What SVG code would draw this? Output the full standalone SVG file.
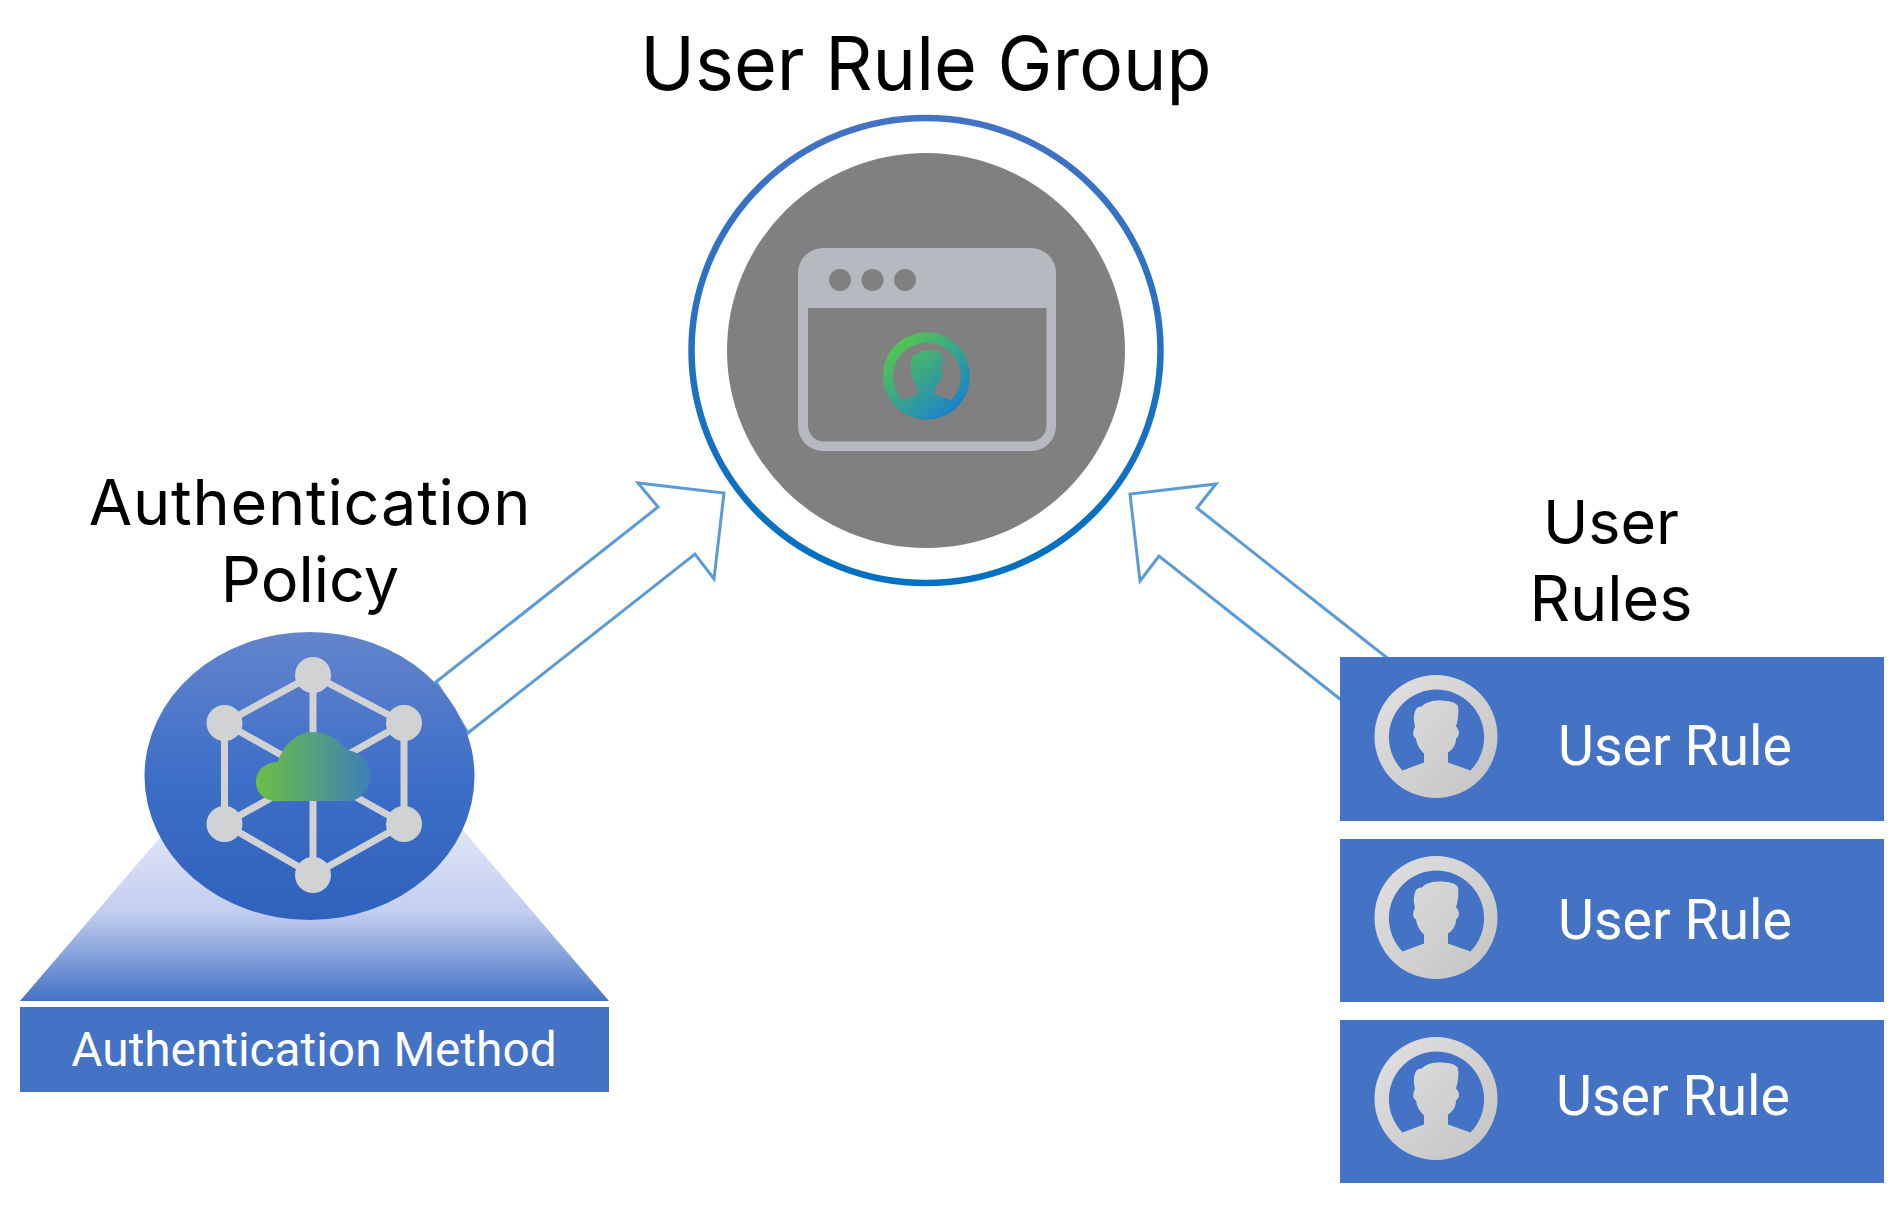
<svg xmlns="http://www.w3.org/2000/svg" xmlns:xlink="http://www.w3.org/1999/xlink" width="1902" height="1206" viewBox="0 0 1902 1206">
<style>
.title{font-family:Inter,"Noto Sans",sans-serif;font-size:73.600px;fill:#000;text-anchor:middle}
.sub{font-family:Inter,"Noto Sans",sans-serif;font-size:63px;fill:#000;text-anchor:middle}
.lbl{font-family:Roboto,"Liberation Sans",sans-serif;fill:#fff}
.box{fill:#4472c4}
.arrow{fill:#fff;stroke:#5b9bd5;stroke-width:3;stroke-linejoin:miter}
.lnk{stroke:#d0d2d4;stroke-width:7;fill:none}
.nd{fill:#d0d2d4}
</style>
<defs>
<linearGradient id="ring" x1="0" y1="0" x2="0" y2="1"><stop offset="0" stop-color="#4472c4"/><stop offset="1" stop-color="#0070c0"/></linearGradient>
<linearGradient id="ell" x1="0" y1="0" x2="0" y2="1"><stop offset="0" stop-color="#6484cc"/><stop offset=".5" stop-color="#3e6fc8"/><stop offset="1" stop-color="#2f62bb"/></linearGradient>
<linearGradient id="tri" gradientUnits="userSpaceOnUse" x1="0" y1="830" x2="0" y2="1001"><stop offset="0" stop-color="#dfe4f7"/><stop offset=".48" stop-color="#c3cef0"/><stop offset="1" stop-color="#4472c4"/></linearGradient>
<linearGradient id="cloud" x1="0" y1="0" x2="1" y2="0"><stop offset="0" stop-color="#6cbf45"/><stop offset="1" stop-color="#3d7fb8"/></linearGradient>
<linearGradient id="grn" x1="0.15" y1="0.1" x2="0.85" y2="0.9"><stop offset="0" stop-color="#56c64c"/><stop offset="1" stop-color="#1a82cc"/></linearGradient>
<linearGradient id="gry" x1="0.1" y1="0.1" x2="0.9" y2="0.9"><stop offset="0" stop-color="#dedede"/><stop offset="1" stop-color="#c6c6c6"/></linearGradient>
<path id="person" fill-rule="evenodd" d="M0-61.500A61.500 61.500 0 1 1 0 61.500A61.500 61.500 0 1 1 0-61.500ZM-33.500 34L-12 26V17C-16 13-19 9-20 2C-23 0-24-3-21-10C-22-15-23-19-21-25C-20-29-17-30-14-30C-10-35-2-36 3-36C13-36 21-34 22-30C23-24 22-16 20-10C24-6 24-1 20 2C20 8 17 13 12 16V26L34.500 34A47.600 47.600 0 1 0-33.500 34Z"/>
</defs>
<rect width="1902" height="1206" fill="#fff"/>

<g id="connectors">
<polygon class="arrow" points="436,682 658,507 638,483 724,493 714,579 695,554 468,733"/>
<polygon class="arrow" points="1386,657 1197,508 1216,484 1130,494 1140,581 1159,556 1340,699"/>
</g>

<g id="user-rule-group">
<text class="title" x="926" y="90">User Rule Group</text>
<ellipse cx="926" cy="350.500" rx="234.500" ry="232.500" fill="#fff" stroke="url(#ring)" stroke-width="6.500"/>
<ellipse cx="926" cy="350.500" rx="199" ry="197.500" fill="#808080"/>
<path fill="#b6b9c0" fill-rule="evenodd" d="M823 248H1031A25 25 0 0 1 1056 273V426A25 25 0 0 1 1031 451H823A25 25 0 0 1 798 426V273A25 25 0 0 1 823 248ZM808 308V425A16 16 0 0 0 824 441.500H1030A16 16 0 0 0 1046.500 425V308Z"/>
<circle cx="840" cy="280" r="11" fill="#808080"/>
<circle cx="872.500" cy="280" r="11" fill="#808080"/>
<circle cx="905" cy="280" r="11" fill="#808080"/>
<use href="#person" transform="translate(926.500,376) scale(.71)" fill="url(#grn)"/>
</g>

<g id="authentication-policy">
<text class="sub" x="310" y="525" letter-spacing=".8">Authentication</text>
<text class="sub" x="310" y="602">Policy</text>
<polygon points="20,1001 314.500,657 609,1001" fill="url(#tri)"/>
<ellipse cx="309.500" cy="776" rx="165" ry="144" fill="url(#ell)"/>
<g class="lnk">
<path d="M313 675L404 723V824L313 875L224.500 824V723Z"/>
<path d="M313 675V875M224.500 723L404 824M404 723L224.500 824"/>
</g>
<circle class="nd" cx="313" cy="675" r="18"/>
<circle class="nd" cx="224.500" cy="723" r="18"/>
<circle class="nd" cx="404" cy="723" r="18"/>
<circle class="nd" cx="224.500" cy="824" r="18"/>
<circle class="nd" cx="404" cy="824" r="18"/>
<circle class="nd" cx="313" cy="875" r="18"/>
<path fill="url(#cloud)" d="M276 801C264 801 256 792 256 782C256 771 265 762 278 762C283 745 297 732 313 732C329 732 340 741 347 750C361 752 371 763 371 775C371 790 360 801 348 801Z"/>
</g>

<g id="authentication-method">
<rect class="box" x="20" y="1007" width="589" height="85"/>
<text class="lbl" x="314" y="1066" font-size="47.800" text-anchor="middle">Authentication Method</text>
</g>

<text class="sub" x="1611" y="544" font-size="61" style="font-size:61px">User</text>
<text class="sub" x="1611" y="621">Rules</text>

<g id="user-rule-1">
<rect class="box" x="1340" y="657" width="544" height="164"/>
<use href="#person" x="1436" y="736.500" fill="url(#gry)"/>
<text class="lbl" x="1558" y="765" font-size="55.400">User Rule</text>
</g>
<g id="user-rule-2">
<rect class="box" x="1340" y="839" width="544" height="163"/>
<use href="#person" x="1436" y="917.500" fill="url(#gry)"/>
<text class="lbl" x="1558" y="939" font-size="55.400">User Rule</text>
</g>
<g id="user-rule-3">
<rect class="box" x="1340" y="1020" width="544" height="163"/>
<use href="#person" x="1436" y="1098.500" fill="url(#gry)"/>
<text class="lbl" x="1556" y="1115" font-size="55.400">User Rule</text>
</g>
</svg>
